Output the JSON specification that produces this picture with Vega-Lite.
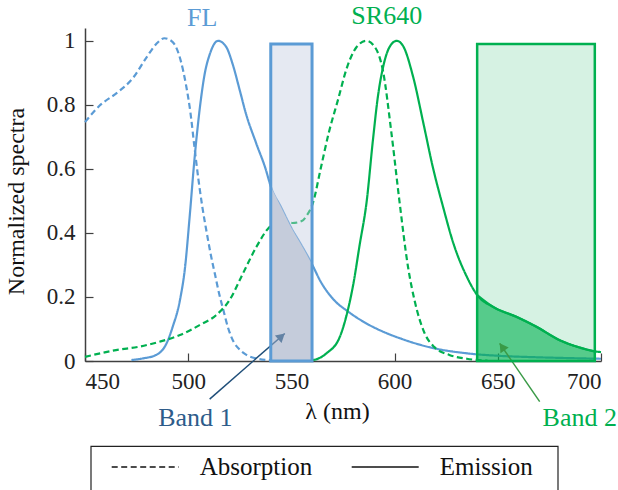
{
  "$schema": "https://vega.github.io/schema/vega-lite/v6.json",
  "width": 516,
  "height": 333,
  "autosize": {"type": "none"},
  "padding": {"left": 85, "top": 28, "right": 17, "bottom": 129},
  "config": {
    "font": "Liberation Serif",
    "view": {"stroke": null},
    "axis": {
      "domainColor": "#404040", "domainWidth": 1.5,
      "tickColor": "#404040", "tickWidth": 1.2, "tickSize": -8,
      "labelFont": "Liberation Serif", "labelFontSize": 23, "labelColor": "#222",
      "titleFont": "Liberation Serif", "titleFontSize": 24, "titleFontWeight": "normal", "titleColor": "#111",
      "grid": false
    },
    "legend": {"strokeWidth": 1.2}
  },
  "datasets": {
    "spectra": [
      {"dye": "FL", "type": "Absorption", "nm": 450, "v": 0.746},
      {"dye": "FL", "type": "Absorption", "nm": 457, "v": 0.797},
      {"dye": "FL", "type": "Absorption", "nm": 466, "v": 0.84},
      {"dye": "FL", "type": "Absorption", "nm": 473, "v": 0.882},
      {"dye": "FL", "type": "Absorption", "nm": 480, "v": 0.95},
      {"dye": "FL", "type": "Absorption", "nm": 484.5, "v": 0.99},
      {"dye": "FL", "type": "Absorption", "nm": 488.5, "v": 1.008},
      {"dye": "FL", "type": "Absorption", "nm": 492.5, "v": 0.996},
      {"dye": "FL", "type": "Absorption", "nm": 496.5, "v": 0.935},
      {"dye": "FL", "type": "Absorption", "nm": 499, "v": 0.86},
      {"dye": "FL", "type": "Absorption", "nm": 501, "v": 0.78},
      {"dye": "FL", "type": "Absorption", "nm": 503, "v": 0.67},
      {"dye": "FL", "type": "Absorption", "nm": 505, "v": 0.565},
      {"dye": "FL", "type": "Absorption", "nm": 507, "v": 0.475},
      {"dye": "FL", "type": "Absorption", "nm": 509, "v": 0.4},
      {"dye": "FL", "type": "Absorption", "nm": 511, "v": 0.33},
      {"dye": "FL", "type": "Absorption", "nm": 513, "v": 0.27},
      {"dye": "FL", "type": "Absorption", "nm": 515, "v": 0.21},
      {"dye": "FL", "type": "Absorption", "nm": 517, "v": 0.16},
      {"dye": "FL", "type": "Absorption", "nm": 519.5, "v": 0.1},
      {"dye": "FL", "type": "Absorption", "nm": 522, "v": 0.06},
      {"dye": "FL", "type": "Absorption", "nm": 525, "v": 0.035},
      {"dye": "FL", "type": "Absorption", "nm": 528, "v": 0.02},
      {"dye": "FL", "type": "Absorption", "nm": 533, "v": 0.008},
      {"dye": "FL", "type": "Absorption", "nm": 538, "v": 0.003},
      {"dye": "FL", "type": "Absorption", "nm": 545, "v": 0.001},
      {"dye": "FL", "type": "Emission", "nm": 472.5, "v": 0.003},
      {"dye": "FL", "type": "Emission", "nm": 478, "v": 0.008},
      {"dye": "FL", "type": "Emission", "nm": 484.5, "v": 0.019},
      {"dye": "FL", "type": "Emission", "nm": 489.5, "v": 0.055},
      {"dye": "FL", "type": "Emission", "nm": 492.5, "v": 0.107},
      {"dye": "FL", "type": "Emission", "nm": 496, "v": 0.19},
      {"dye": "FL", "type": "Emission", "nm": 498.5, "v": 0.294},
      {"dye": "FL", "type": "Emission", "nm": 500.7, "v": 0.45},
      {"dye": "FL", "type": "Emission", "nm": 503, "v": 0.627},
      {"dye": "FL", "type": "Emission", "nm": 505.5, "v": 0.783},
      {"dye": "FL", "type": "Emission", "nm": 508, "v": 0.897},
      {"dye": "FL", "type": "Emission", "nm": 510.5, "v": 0.959},
      {"dye": "FL", "type": "Emission", "nm": 514.5, "v": 1.0},
      {"dye": "FL", "type": "Emission", "nm": 518.5, "v": 0.98},
      {"dye": "FL", "type": "Emission", "nm": 521.5, "v": 0.928},
      {"dye": "FL", "type": "Emission", "nm": 525, "v": 0.845},
      {"dye": "FL", "type": "Emission", "nm": 528, "v": 0.772},
      {"dye": "FL", "type": "Emission", "nm": 533, "v": 0.679},
      {"dye": "FL", "type": "Emission", "nm": 537.5, "v": 0.6},
      {"dye": "FL", "type": "Emission", "nm": 540, "v": 0.545},
      {"dye": "FL", "type": "Emission", "nm": 545, "v": 0.48},
      {"dye": "FL", "type": "Emission", "nm": 550, "v": 0.415},
      {"dye": "FL", "type": "Emission", "nm": 555, "v": 0.36},
      {"dye": "FL", "type": "Emission", "nm": 560, "v": 0.302},
      {"dye": "FL", "type": "Emission", "nm": 564, "v": 0.25},
      {"dye": "FL", "type": "Emission", "nm": 570, "v": 0.195},
      {"dye": "FL", "type": "Emission", "nm": 578, "v": 0.152},
      {"dye": "FL", "type": "Emission", "nm": 587, "v": 0.115},
      {"dye": "FL", "type": "Emission", "nm": 595, "v": 0.09},
      {"dye": "FL", "type": "Emission", "nm": 603, "v": 0.07},
      {"dye": "FL", "type": "Emission", "nm": 619, "v": 0.04},
      {"dye": "FL", "type": "Emission", "nm": 635, "v": 0.024},
      {"dye": "FL", "type": "Emission", "nm": 651, "v": 0.016},
      {"dye": "FL", "type": "Emission", "nm": 667, "v": 0.012},
      {"dye": "FL", "type": "Emission", "nm": 685, "v": 0.009},
      {"dye": "FL", "type": "Emission", "nm": 700, "v": 0.007},
      {"dye": "SR640", "type": "Absorption", "nm": 450, "v": 0.013},
      {"dye": "SR640", "type": "Absorption", "nm": 465, "v": 0.034},
      {"dye": "SR640", "type": "Absorption", "nm": 476.5, "v": 0.045},
      {"dye": "SR640", "type": "Absorption", "nm": 486, "v": 0.06},
      {"dye": "SR640", "type": "Absorption", "nm": 496, "v": 0.081},
      {"dye": "SR640", "type": "Absorption", "nm": 505.5, "v": 0.112},
      {"dye": "SR640", "type": "Absorption", "nm": 513.5, "v": 0.143},
      {"dye": "SR640", "type": "Absorption", "nm": 520, "v": 0.19},
      {"dye": "SR640", "type": "Absorption", "nm": 526.5, "v": 0.273},
      {"dye": "SR640", "type": "Absorption", "nm": 533, "v": 0.356},
      {"dye": "SR640", "type": "Absorption", "nm": 539.5, "v": 0.419},
      {"dye": "SR640", "type": "Absorption", "nm": 544.5, "v": 0.435},
      {"dye": "SR640", "type": "Absorption", "nm": 550.5, "v": 0.431},
      {"dye": "SR640", "type": "Absorption", "nm": 555, "v": 0.437},
      {"dye": "SR640", "type": "Absorption", "nm": 557.5, "v": 0.455},
      {"dye": "SR640", "type": "Absorption", "nm": 560.5, "v": 0.495},
      {"dye": "SR640", "type": "Absorption", "nm": 564, "v": 0.595},
      {"dye": "SR640", "type": "Absorption", "nm": 568, "v": 0.71},
      {"dye": "SR640", "type": "Absorption", "nm": 572.5, "v": 0.814},
      {"dye": "SR640", "type": "Absorption", "nm": 577, "v": 0.918},
      {"dye": "SR640", "type": "Absorption", "nm": 581.5, "v": 0.98},
      {"dye": "SR640", "type": "Absorption", "nm": 586.3, "v": 1.0},
      {"dye": "SR640", "type": "Absorption", "nm": 590.5, "v": 0.98},
      {"dye": "SR640", "type": "Absorption", "nm": 594.4, "v": 0.905},
      {"dye": "SR640", "type": "Absorption", "nm": 598.5, "v": 0.71},
      {"dye": "SR640", "type": "Absorption", "nm": 602.3, "v": 0.502},
      {"dye": "SR640", "type": "Absorption", "nm": 606.5, "v": 0.294},
      {"dye": "SR640", "type": "Absorption", "nm": 610, "v": 0.18},
      {"dye": "SR640", "type": "Absorption", "nm": 614.6, "v": 0.086},
      {"dye": "SR640", "type": "Absorption", "nm": 619, "v": 0.045},
      {"dye": "SR640", "type": "Absorption", "nm": 626.5, "v": 0.019},
      {"dye": "SR640", "type": "Absorption", "nm": 635, "v": 0.007},
      {"dye": "SR640", "type": "Absorption", "nm": 645, "v": 0.001},
      {"dye": "SR640", "type": "Emission", "nm": 555, "v": 0.0},
      {"dye": "SR640", "type": "Emission", "nm": 560.5, "v": 0.003},
      {"dye": "SR640", "type": "Emission", "nm": 567, "v": 0.024},
      {"dye": "SR640", "type": "Emission", "nm": 573.5, "v": 0.076},
      {"dye": "SR640", "type": "Emission", "nm": 577, "v": 0.15},
      {"dye": "SR640", "type": "Emission", "nm": 580, "v": 0.24},
      {"dye": "SR640", "type": "Emission", "nm": 583, "v": 0.36},
      {"dye": "SR640", "type": "Emission", "nm": 586.5, "v": 0.5},
      {"dye": "SR640", "type": "Emission", "nm": 589.5, "v": 0.69},
      {"dye": "SR640", "type": "Emission", "nm": 592, "v": 0.83},
      {"dye": "SR640", "type": "Emission", "nm": 594.5, "v": 0.92},
      {"dye": "SR640", "type": "Emission", "nm": 597.5, "v": 0.98},
      {"dye": "SR640", "type": "Emission", "nm": 601, "v": 1.0},
      {"dye": "SR640", "type": "Emission", "nm": 604, "v": 0.985},
      {"dye": "SR640", "type": "Emission", "nm": 609, "v": 0.887},
      {"dye": "SR640", "type": "Emission", "nm": 614, "v": 0.741},
      {"dye": "SR640", "type": "Emission", "nm": 618.5, "v": 0.606},
      {"dye": "SR640", "type": "Emission", "nm": 623.5, "v": 0.481},
      {"dye": "SR640", "type": "Emission", "nm": 628.5, "v": 0.367},
      {"dye": "SR640", "type": "Emission", "nm": 635, "v": 0.263},
      {"dye": "SR640", "type": "Emission", "nm": 640, "v": 0.206},
      {"dye": "SR640", "type": "Emission", "nm": 647.7, "v": 0.169},
      {"dye": "SR640", "type": "Emission", "nm": 659, "v": 0.138},
      {"dye": "SR640", "type": "Emission", "nm": 668.7, "v": 0.107},
      {"dye": "SR640", "type": "Emission", "nm": 680, "v": 0.065},
      {"dye": "SR640", "type": "Emission", "nm": 689.7, "v": 0.042},
      {"dye": "SR640", "type": "Emission", "nm": 697, "v": 0.03},
      {"dye": "SR640", "type": "Emission", "nm": 700, "v": 0.028}
    ],
    "bands": [
      {"band": "Band 1", "x0": 540, "x1": 560, "top": 0.99},
      {"band": "Band 2", "x0": 640, "x1": 697, "top": 0.99}
    ],
    "arrows": [
      {"band": "Band 1", "nm0": 510.4, "v0": -0.119, "nm1": 546.8, "v1": 0.086, "hnm": 545.2, "hv": 0.077},
      {"band": "Band 2", "nm0": 670.3, "v0": -0.127, "nm1": 650.9, "v1": 0.055, "hnm": 652.1, "hv": 0.044}
    ],
    "labels": [
      {"label": "FL", "nm": 506.8, "v": 1.07},
      {"label": "SR640", "nm": 596.2, "v": 1.076},
      {"label": "Band 1", "nm": 503.5, "v": -0.178},
      {"label": "Band 2", "nm": 689.7, "v": -0.178}
    ]
  },
  "layer": [
    {
      "data": {"name": "spectra"},
      "mark": {"type": "line", "strokeWidth": 2.2, "interpolate": "monotone"},
      "encoding": {
        "x": {"field": "nm", "type": "quantitative", "scale": {"domain": [450, 700], "nice": false},
              "axis": {"values": [450, 500, 550, 600, 650, 700], "title": "λ (nm)", "labelPadding": 17, "titlePadding": 6, "titleX": 252}},
        "y": {"field": "v", "type": "quantitative", "scale": {"domain": [0, 1.04], "nice": false},
              "axis": {"values": [0, 0.2, 0.4, 0.6, 0.8, 1], "format": "~g", "title": "Normalized spectra", "labelPadding": 18, "titlePadding": 18, "titleY": 173}},
        "color": {"field": "dye", "type": "nominal", "scale": {"domain": ["FL", "SR640"], "range": ["#5b9bd5", "#00b050"]}, "legend": null},
        "strokeDash": {"field": "type", "type": "nominal",
          "scale": {"domain": ["Absorption", "Emission"], "range": [[6, 3.5], [1, 0]]},
          "legend": {"orient": "none", "legendX": 5.7, "legendY": 418, "direction": "horizontal",
            "title": " ", "titleOrient": "right", "titlePadding": 15, "titleFontSize": 25,
            "symbolType": "stroke", "symbolSize": 4489, "symbolStrokeColor": "#111", "symbolStrokeWidth": 1.3, "symbolOffset": 10,
            "labelFontSize": 25, "labelFont": "Liberation Serif", "labelColor": "#111",
            "strokeColor": "#222", "padding": 10, "clipHeight": 22, "columnPadding": 28, "labelOffset": 20, "gridAlign": "all"}}
      }
    },
    {
      "data": {"name": "spectra"},
      "transform": [{"filter": "datum.dye === 'FL' && datum.type === 'Emission' && datum.nm >= 540 && datum.nm <= 560"}],
      "mark": {"type": "area", "color": "#c9ced8", "opacity": 1, "interpolate": "monotone"},
      "encoding": {
        "x": {"field": "nm", "type": "quantitative"}, "y": {"field": "v", "type": "quantitative"}
      }
    },
    {
      "data": {"name": "arrows"},
      "transform": [{"filter": "datum.band === 'Band 1'"}],
      "mark": {"type": "rule", "color": "#1f4e79", "strokeWidth": 1.5},
      "encoding": {
        "x": {"field": "nm0", "type": "quantitative"}, "y": {"field": "v0", "type": "quantitative"},
        "x2": {"field": "nm1"}, "y2": {"field": "v1"}
      }
    },
    {
      "data": {"name": "arrows"},
      "transform": [{"filter": "datum.band === 'Band 1'"}],
      "mark": {"type": "point", "shape": "triangle-up", "filled": true, "size": 100, "angle": 48.7, "color": "#1f4e79", "opacity": 1},
      "encoding": {
        "x": {"field": "hnm", "type": "quantitative"}, "y": {"field": "hv", "type": "quantitative"}
      }
    },
    {
      "data": {"name": "bands"},
      "transform": [{"filter": "datum.band === 'Band 1'"}],
      "mark": {"type": "rect", "fill": "#c0cbe0", "fillOpacity": 0.42},
      "encoding": {
        "x": {"field": "x0", "type": "quantitative"}, "x2": {"field": "x1"},
        "y": {"field": "top", "type": "quantitative"}, "y2": {"datum": 0}
      }
    },
    {
      "data": {"name": "bands"},
      "transform": [{"filter": "datum.band === 'Band 2'"}],
      "mark": {"type": "rect", "fill": "#00b050", "fillOpacity": 0.16},
      "encoding": {
        "x": {"field": "x0", "type": "quantitative"}, "x2": {"field": "x1"},
        "y": {"field": "top", "type": "quantitative"}, "y2": {"datum": 0}
      }
    },
    {
      "data": {"name": "spectra"},
      "transform": [{"filter": "datum.dye === 'SR640' && datum.type === 'Emission' && datum.nm >= 640 && datum.nm <= 697"}],
      "mark": {"type": "area", "fill": "#00b050", "fillOpacity": 0.6, "interpolate": "monotone",
               "line": {"stroke": "#00b050", "strokeWidth": 2.2, "interpolate": "monotone"}},
      "encoding": {
        "x": {"field": "nm", "type": "quantitative"}, "y": {"field": "v", "type": "quantitative"}
      }
    },
    {
      "data": {"name": "arrows"},
      "transform": [{"filter": "datum.band === 'Band 2'"}],
      "mark": {"type": "rule", "color": "#3a9a47", "strokeWidth": 1.5},
      "encoding": {
        "x": {"field": "nm0", "type": "quantitative"}, "y": {"field": "v0", "type": "quantitative"},
        "x2": {"field": "nm1"}, "y2": {"field": "v1"}
      }
    },
    {
      "data": {"name": "arrows"},
      "transform": [{"filter": "datum.band === 'Band 2'"}],
      "mark": {"type": "point", "shape": "triangle-up", "filled": true, "size": 100, "angle": 325.2, "color": "#3a9a47", "opacity": 1},
      "encoding": {
        "x": {"field": "hnm", "type": "quantitative"}, "y": {"field": "hv", "type": "quantitative"}
      }
    },
    {
      "data": {"name": "bands"},
      "transform": [{"filter": "datum.band === 'Band 1'"}],
      "mark": {"type": "rect", "fill": null, "stroke": "#5b9bd5", "strokeWidth": 3},
      "encoding": {
        "x": {"field": "x0", "type": "quantitative"}, "x2": {"field": "x1"},
        "y": {"field": "top", "type": "quantitative"}, "y2": {"datum": 0}
      }
    },
    {
      "data": {"name": "bands"},
      "transform": [{"filter": "datum.band === 'Band 2'"}],
      "mark": {"type": "rect", "fill": null, "stroke": "#00b050", "strokeWidth": 2.5},
      "encoding": {
        "x": {"field": "x0", "type": "quantitative"}, "x2": {"field": "x1"},
        "y": {"field": "top", "type": "quantitative"}, "y2": {"datum": 0}
      }
    },
    {
      "data": {"name": "labels"},
      "mark": {"type": "text", "font": "Liberation Serif", "align": "center", "baseline": "middle"},
      "encoding": {
        "x": {"field": "nm", "type": "quantitative"}, "y": {"field": "v", "type": "quantitative"},
        "text": {"field": "label"},
        "size": {"field": "label", "type": "nominal", "scale": {"domain": ["FL", "SR640", "Band 1", "Band 2"], "range": [26, 26, 24, 24]}, "legend": null},
        "fill": {"field": "label", "type": "nominal", "scale": {"domain": ["FL", "SR640", "Band 1", "Band 2"], "range": ["#5b9bd5", "#00b050", "#2e5c8a", "#00b050"]}, "legend": null}
      }
    }
  ]
}
